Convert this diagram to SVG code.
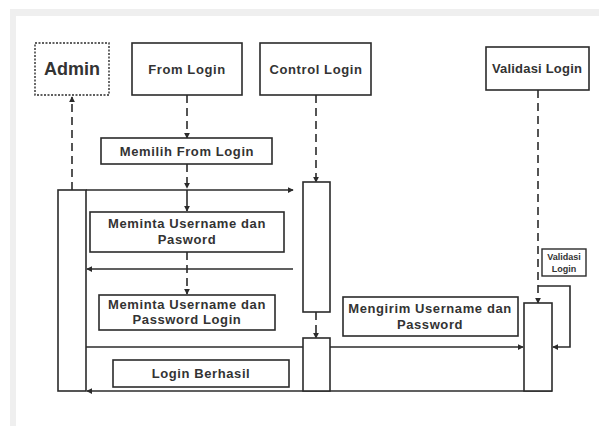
<svg xmlns="http://www.w3.org/2000/svg" width="599" height="426" viewBox="0 0 599 426">
<defs>
<marker id="ah" viewBox="0 0 8 8" refX="7" refY="4" markerWidth="6" markerHeight="6" orient="auto" markerUnits="userSpaceOnUse">
<path d="M0,0 L8,4 L0,8 Z" fill="#2b2b2b"/>
</marker>
</defs>
<style>
.bx{fill:#fff;stroke:#2b2b2b;stroke-width:1.6}
.t{font-family:"Liberation Sans",Arial,sans-serif;font-weight:bold;fill:#333;text-anchor:middle;font-size:13px;letter-spacing:0.6px}
.s{font-family:"Liberation Sans",Arial,sans-serif;font-weight:bold;fill:#333;text-anchor:middle;font-size:9px}
.ln{fill:none;stroke:#2b2b2b;stroke-width:1.6}
.ds{fill:none;stroke:#2b2b2b;stroke-width:1.6;stroke-dasharray:8 5}
</style>
<rect x="0" y="0" width="599" height="426" fill="#fff"/>
<rect x="10" y="9" width="589" height="7" fill="#efefef"/>
<rect x="10" y="9" width="6" height="417" fill="#efefef"/>

<g id="connectors">
<line class="ds" x1="72" y1="190" x2="72" y2="97" marker-end="url(#ah)"/>
<line class="ds" x1="187" y1="95" x2="187" y2="138" marker-end="url(#ah)"/>
<line class="ds" x1="187" y1="164" x2="187" y2="188" marker-end="url(#ah)"/>
<line class="ln" x1="187" y1="190" x2="187" y2="211" marker-end="url(#ah)"/>
<line class="ds" x1="187" y1="252" x2="187" y2="294" marker-end="url(#ah)"/>
<line class="ds" x1="316" y1="95" x2="316" y2="182" marker-end="url(#ah)"/>
<line class="ds" x1="316" y1="312" x2="316" y2="338" marker-end="url(#ah)"/>
<line class="ds" x1="538" y1="90" x2="538" y2="303" marker-end="url(#ah)"/>
<line class="ln" x1="86" y1="190" x2="293" y2="190" marker-end="url(#ah)"/>
<line class="ln" x1="293" y1="269" x2="87" y2="269" marker-end="url(#ah)"/>
<line class="ln" x1="86" y1="347" x2="523" y2="347" marker-end="url(#ah)"/>
<line class="ln" x1="552" y1="391" x2="87" y2="391" marker-end="url(#ah)"/>
<polyline class="ln" points="538,286 570,286 570,347 553,347" marker-end="url(#ah)"/>
</g>

<g id="admin">
<rect x="35" y="43" width="74" height="52" fill="#fff" stroke="#2b2b2b" stroke-width="1.4" stroke-dasharray="2 1.5"/>
<text class="t" x="72" y="75" style="font-size:18px;letter-spacing:0">Admin</text>
</g>
<g id="from-login">
<rect class="bx" x="132" y="43" width="110" height="52"/>
<text class="t" x="187" y="74">From Login</text>
</g>
<g id="control-login">
<rect class="bx" x="260" y="43" width="111" height="52"/>
<text class="t" x="316" y="74">Control Login</text>
</g>
<g id="validasi-login">
<rect class="bx" x="486" y="47" width="103" height="43"/>
<text class="t" x="537" y="73" style="letter-spacing:0.2px">Validasi Login</text>
</g>

<g id="admin-activation"><rect class="bx" x="58" y="190" width="28" height="201"/></g>
<g id="control-activation-1"><rect class="bx" x="303" y="182" width="27" height="130"/></g>
<g id="control-activation-2"><rect class="bx" x="303" y="338" width="27" height="53"/></g>
<g id="validasi-activation"><rect class="bx" x="524" y="303" width="28" height="88"/></g>

<g id="memilih-from-login">
<rect class="bx" x="101" y="138" width="171" height="26"/>
<text class="t" x="187" y="156">Memilih From Login</text>
</g>
<g id="meminta-username-pasword">
<rect class="bx" x="90" y="212" width="194" height="40"/>
<text class="t" x="187" y="228">Meminta Username dan</text>
<text class="t" x="187" y="244">Pasword</text>
</g>
<g id="meminta-username-password-login">
<rect class="bx" x="99" y="295" width="176" height="35"/>
<text class="t" x="187" y="309">Meminta Username dan</text>
<text class="t" x="187" y="324">Password Login</text>
</g>
<g id="login-berhasil">
<rect class="bx" x="113" y="360" width="176" height="27"/>
<text class="t" x="201" y="378">Login Berhasil</text>
</g>
<g id="mengirim-username-password">
<rect class="bx" x="343" y="297" width="175" height="39"/>
<text class="t" x="430" y="313">Mengirim Username dan</text>
<text class="t" x="430" y="329">Password</text>
</g>
<g id="validasi-login-label">
<rect class="bx" x="542" y="249" width="44" height="27" style="stroke-width:1.4"/>
<text class="s" x="564" y="260">Validasi</text>
<text class="s" x="564" y="272">Login</text>
</g>
</svg>
